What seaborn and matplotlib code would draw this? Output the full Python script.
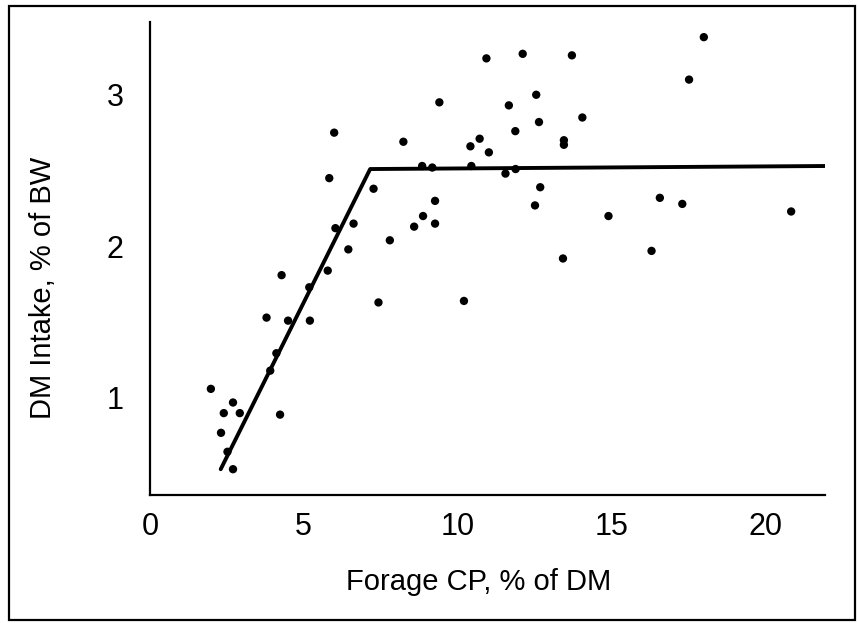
import numpy as np
import pandas as pd
import seaborn as sns
import matplotlib
matplotlib.use("Agg")
import matplotlib.pyplot as plt
from matplotlib.patches import Rectangle

forage_cp = [5.99, 5.83, 9.41, 8.24, 11.67, 12.56, 12.65, 11.88, 13.46, 13.46,
             10.42, 10.72, 11.02, 8.85, 9.18, 10.45, 11.56, 11.89, 14.06, 7.27,
             12.69, 12.52, 9.27, 8.88, 8.59, 9.27, 6.03, 6.62, 6.45, 7.80,
             5.78, 7.43, 10.21, 13.43, 18.01, 13.72, 17.53, 16.58, 17.31, 14.91,
             20.85, 16.31, 10.94, 12.12, 4.28, 5.18, 3.79, 4.49, 5.20, 4.11,
             3.91, 1.98, 2.70, 2.40, 2.92, 4.23, 2.31, 2.52, 2.70]
dm_intake = [2.75, 2.45, 2.95, 2.69, 2.93, 3.00, 2.82, 2.76, 2.70, 2.67,
             2.66, 2.71, 2.62, 2.53, 2.52, 2.53, 2.48, 2.51, 2.85, 2.38,
             2.39, 2.27, 2.30, 2.20, 2.13, 2.15, 2.12, 2.15, 1.98, 2.04,
             1.84, 1.63, 1.64, 1.92, 3.38, 3.26, 3.10, 2.32, 2.28, 2.20,
             2.23, 1.97, 3.24, 3.27, 1.81, 1.73, 1.53, 1.51, 1.51, 1.295,
             1.18, 1.06, 0.97, 0.90, 0.90, 0.89, 0.77, 0.645, 0.53]

# Broken-line (linear-plateau) fit
fit_cp = [2.30, 7.16, 21.95]
fit_dmi = [0.53, 2.51, 2.53]

pts = pd.DataFrame({"cp": forage_cp, "dmi": dm_intake})
fit = pd.DataFrame({"cp": fit_cp, "dmi": fit_dmi})

sns.set_style("white")
plt.rcParams["font.family"] = ["Liberation Sans", "DejaVu Sans"]
plt.rcParams["text.color"] = "black"
plt.rcParams["axes.labelcolor"] = "black"
plt.rcParams["xtick.color"] = "black"
plt.rcParams["ytick.color"] = "black"

fig = plt.figure(figsize=(8.59, 6.23), dpi=100)
ax = fig.add_axes([0.1746, 0.2055, 0.7858, 0.7592])

sns.lineplot(data=fit, x="cp", y="dmi", ax=ax, color="black", linewidth=2.8,
             sort=False, estimator=None)
sns.scatterplot(data=pts, x="cp", y="dmi", ax=ax, color="black", s=36,
                edgecolor="none", zorder=3)

ax.set_xlim(0, 21.95)
ax.set_ylim(0.36, 3.48)
ax.set_xticks([0, 5, 10, 15, 20])
ax.set_yticks([1, 2, 3])
ax.tick_params(axis="x", direction="in", length=4, width=1, pad=12, labelsize=22)
ax.tick_params(axis="y", length=0, pad=19, labelsize=22)

for side in ["top", "right"]:
    ax.spines[side].set_visible(False)
for side in ["left", "bottom"]:
    ax.spines[side].set_color("black")
    ax.spines[side].set_linewidth(1.6)

ax.set_xlabel("Forage CP, % of DM", fontsize=21)
ax.set_ylabel("DM Intake, % of BW", fontsize=21)
ax.xaxis.set_label_coords(0.487, -0.155)
ax.yaxis.set_label_coords(-0.158, 0.437)
ax.yaxis.label.set_verticalalignment("center")

# Frame round the whole picture
fig.patches.append(Rectangle((0.01, 0.005), 0.985, 0.985, transform=fig.transFigure,
                             fill=False, edgecolor="black", linewidth=1.6))

fig.savefig("out.png", dpi=100)
